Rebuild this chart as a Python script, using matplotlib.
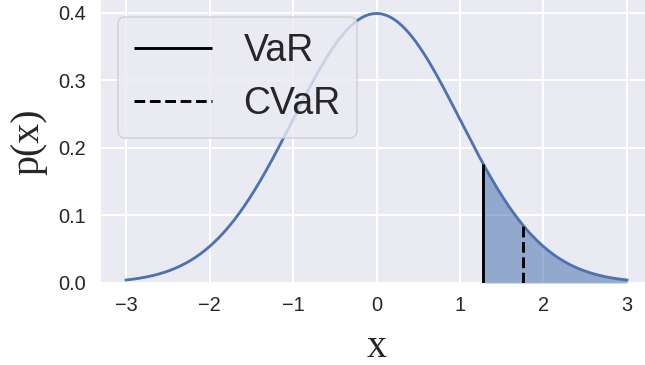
import numpy as np
import matplotlib
matplotlib.use("Agg")
import matplotlib.pyplot as plt

# Standard normal loss distribution and its 90% tail risk measures
mu = 0.0
sigma = 1.0
x_min, x_max = -3.0, 3.0
var_level = 1.2816      # VaR at the 90% level
cvar_level = 1.7550     # CVaR (expected shortfall) at the 90% level
legend_labels = ["VaR", "CVaR"]
x_ticks = [-3, -2, -1, 0, 1, 2, 3]
y_ticks = [0.0, 0.1, 0.2, 0.3, 0.4]


def density(v):
    return np.exp(-0.5 * ((v - mu) / sigma) ** 2) / (sigma * np.sqrt(2 * np.pi))


xs = np.linspace(x_min, x_max, 600)
ps = density(xs)
tail = xs >= var_level

BLUE = "#4C72B0"
BG = "#EAEAF2"
TXT = "#262626"
px = 0.72  # points per pixel at dpi 100

fig = plt.figure(figsize=(6.45, 3.65), dpi=100)
ax = fig.add_axes([101 / 645, 82 / 365, (652 - 101) / 645, 283 / 365])
ax.set_facecolor(BG)
for s in ax.spines.values():
    s.set_visible(False)
ax.set_axisbelow(True)
ax.grid(True, color="white", linewidth=2 * px)

ax.plot(xs, ps, color=BLUE, linewidth=2.8 * px, zorder=3)
ax.fill_between(xs[tail], 0, ps[tail], color=BLUE, alpha=0.55, linewidth=0, zorder=2)
ax.vlines(var_level, 0, density(var_level), colors="black", linewidth=2.9 * px,
          label=legend_labels[0], zorder=4)
ax.vlines(cvar_level, 0, density(cvar_level), colors="black", linewidth=2.9 * px,
          linestyles="--", label=legend_labels[1], zorder=4)

ax.set_xlim(-3.3, 3.3)
ax.set_ylim(0, 0.4189)
ax.set_xticks(x_ticks)
ax.set_xticklabels(["\u2212" + str(-t) if t < 0 else str(t) for t in x_ticks])
ax.set_yticks(y_ticks)
ax.set_yticklabels([f"{t:.1f}" for t in y_ticks])
for lab in ax.get_xticklabels() + ax.get_yticklabels():
    lab.set_fontfamily("Liberation Sans")
    lab.set_fontsize(20 * px)
    lab.set_color(TXT)
ax.tick_params(axis="x", length=0, pad=13 * px)
ax.tick_params(axis="y", length=0, pad=15 * px)

ax.set_xlabel("x", family="Liberation Serif", fontsize=40 * px, color=TXT)
ax.xaxis.label.set_va("baseline")
ax.xaxis.set_label_coords(0.5, -0.2615)
ax.set_ylabel("p(x)", family="Liberation Serif", fontsize=40 * px, color=TXT)
ax.yaxis.set_label_coords(-0.098, 0.5)

leg = ax.legend(loc="upper left", prop=dict(family="Liberation Sans", size=37.5 * px),
                frameon=True, fancybox=True, borderpad=0.42, labelspacing=0.46,
                handlelength=2.1, handletextpad=0.83, borderaxespad=0.45)
leg.get_frame().set_facecolor(BG)
leg.get_frame().set_alpha(0.8)
leg.get_frame().set_edgecolor("#CCCCCC")
leg.get_frame().set_linewidth(1.5 * px)
for t in leg.get_texts():
    t.set_color(TXT)

fig.savefig("out.png", dpi=100)
